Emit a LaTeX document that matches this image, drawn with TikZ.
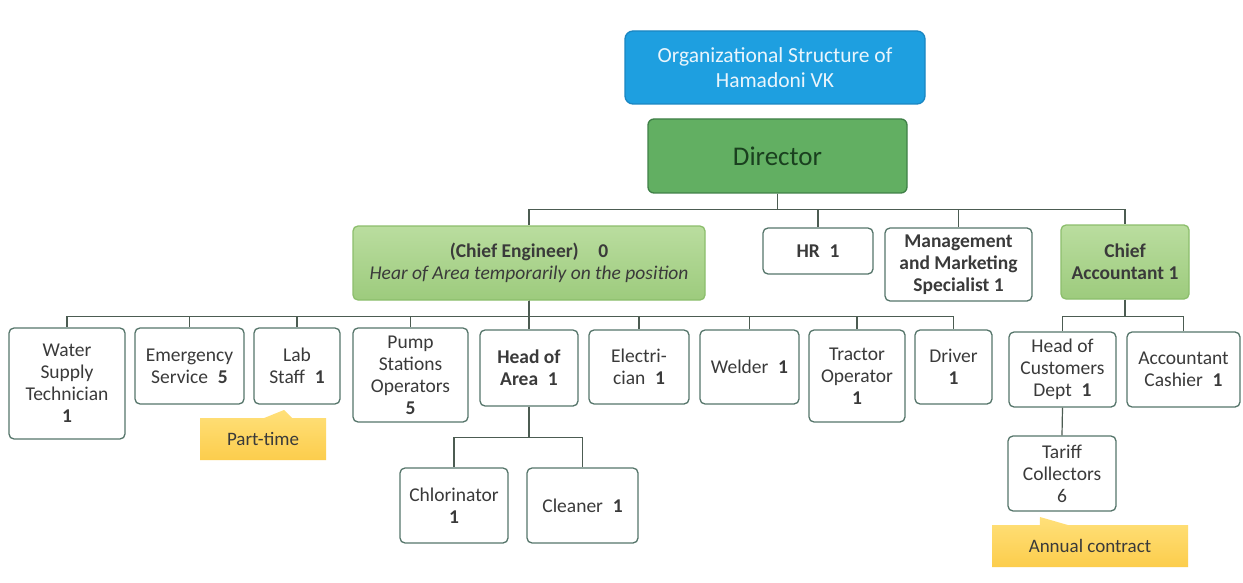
\documentclass[tikz,border=0pt]{standalone}
\usepackage{fontspec}
\setmainfont{Carlito}
\usetikzlibrary{shapes.callouts}
\definecolor{titleblue}{HTML}{1E9FE0}
\definecolor{titleborder}{HTML}{1A86C2}
\definecolor{dirgreen}{HTML}{62AF62}
\definecolor{dirborder}{HTML}{3F8047}
\definecolor{dirtext}{HTML}{1A401F}
\definecolor{lgtop}{HTML}{BADD9F}
\definecolor{lgbot}{HTML}{9DCB7D}
\definecolor{lgborder}{HTML}{8CBE6C}
\definecolor{boxborder}{HTML}{55756A}
\definecolor{txt}{HTML}{3A3A3A}
\definecolor{ytop}{HTML}{FFE07A}
\definecolor{ybot}{HTML}{FCCD4C}
\definecolor{linec}{HTML}{4C5C52}
\begin{document}
\begin{tikzpicture}[x=1pt,y=-1pt,
  box/.style={draw=boxborder, line width=1.3pt, rounded corners=5pt, fill=white,
    align=center, text=txt, inner sep=2pt,
    font=\fontsize{19.5}{22}\selectfont},
  lgbox/.style={box, draw=lgborder, top color=lgtop, bottom color=lgbot},
  note/.style={rectangle callout, draw=none, top color=ytop, bottom color=ybot,
    text=txt, font=\fontsize{19}{22}\selectfont, callout pointer width=28pt},
  conn/.style={draw=linec, line width=1.2pt}
]
\useasboundingbox[fill=white] (0,0) rectangle (1243,583);

% top
\node[draw=titleborder, line width=1.3pt, rounded corners=8pt, fill=titleblue,
  minimum width=300pt, minimum height=73pt, align=center, text=white!90!titleblue,
  font=\fontsize{21.5}{25}\selectfont] (title) at (775,67.5)
  {Organizational Structure of\\Hamadoni VK};
\node[draw=dirborder, line width=1.3pt, rounded corners=6pt, fill=dirgreen,
  minimum width=259pt, minimum height=74pt, text=dirtext,
  font=\fontsize{27}{30}\selectfont] (dir) at (777.5,156) {Director};

% level 1
\node[lgbox, minimum width=352pt, minimum height=74pt] (ce) at (529,263)
  {\textbf{(Chief Engineer)\quad 0}\\\textit{Hear of Area temporarily on the position}};
\node[box, minimum width=110pt, minimum height=46pt] (hr) at (818,251) {\textbf{HR\enspace 1}};
\node[box, minimum width=147pt, minimum height=73pt] (mm) at (958.5,264.5)
  {\textbf{Management}\\\textbf{and Marketing}\\\textbf{Specialist 1}};
\node[lgbox, minimum width=128pt, minimum height=74pt] (ca) at (1125,262)
  {\textbf{Chief}\\\textbf{Accountant 1}};

% level 2
\node[box, minimum width=116pt, minimum height=111pt] (wst) at (67,383.5)
  {Water\\Supply\\Technician\\\textbf{1}};
\node[box, minimum width=109pt, minimum height=76pt] (es) at (189.5,366)
  {Emergency\\Service\enspace\textbf{5}};
\node[box, minimum width=86pt, minimum height=76pt] (lab) at (297,366)
  {Lab\\Staff\enspace\textbf{1}};
\node[box, minimum width=115pt, minimum height=94pt] (pso) at (410.5,375)
  {Pump\\Stations\\Operators\\\textbf{5}};
\node[box, minimum width=98pt, minimum height=76pt] (hoa) at (529,368)
  {\textbf{Head of}\\\textbf{Area\enspace 1}};
\node[box, minimum width=100pt, minimum height=74pt] (el) at (639,367)
  {Electri-\\cian\enspace\textbf{1}};
\node[box, minimum width=99pt, minimum height=74pt] (wel) at (749.5,367)
  {Welder\enspace\textbf{1}};
\node[box, minimum width=96pt, minimum height=92pt] (tr) at (857,376)
  {Tractor\\Operator\\\textbf{1}};
\node[box, minimum width=77pt, minimum height=74pt] (drv) at (953.5,367)
  {Driver\\\textbf{1}};
\node[box, minimum width=107pt, minimum height=75pt] (hcd) at (1062.5,369.5)
  {Head of\\Customers\\Dept\enspace\textbf{1}};
\node[box, minimum width=113pt, minimum height=75pt] (acc) at (1183.5,369.5)
  {Accountant\\Cashier\enspace\textbf{1}};

% level 3
\node[box, minimum width=108pt, minimum height=75pt] (chl) at (454,505.5)
  {Chlorinator\\\textbf{1}};
\node[box, minimum width=111pt, minimum height=75pt] (cln) at (582.5,505.5)
  {Cleaner\enspace\textbf{1}};
\node[box, minimum width=108pt, minimum height=75pt] (tc) at (1062,473.5)
  {Tariff\\Collectors\\6};

% notes
\node[note, minimum width=126pt, minimum height=42pt, callout absolute pointer={(284,410)}]
  (pt) at (263,439) {Part-time};
\node[note, minimum width=196pt, minimum height=42pt, callout absolute pointer={(1040,517)}]
  (ac) at (1090,546) {Annual contract};

% connectors
\foreach \c in {ce,hr,mm,ca}
  \draw[conn] (dir.south) -- ++(0,16) -| (\c.north);
\foreach \c in {wst,es,lab,pso,hoa,el,wel,tr,drv}
  \draw[conn] (ce.south) -- ++(0,16) -| (\c.north);
\foreach \c in {hcd,acc}
  \draw[conn] (ca.south) -- ++(0,17) -| (\c.north);
\foreach \c in {chl,cln}
  \draw[conn] (hoa.south) -- ++(0,31) -| (\c.north);
\draw[conn] (hcd.south) -- (tc.north);
\end{tikzpicture}
\end{document}
